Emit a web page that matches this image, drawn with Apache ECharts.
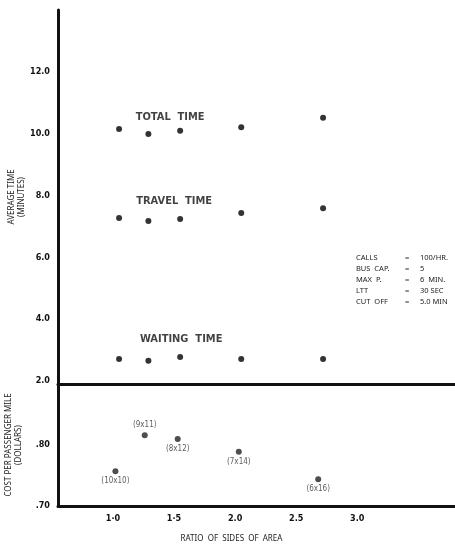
<!DOCTYPE html>
<html>
<head>
<meta charset="utf-8">
<script src="https://cdn.jsdelivr.net/npm/echarts@6/dist/echarts.min.js"></script>
<style>
  html, body { margin: 0; padding: 0; background: #fff; }
</style>
</head>
<body>
<div id="chart" style="width: 455px; height: 548px"></div>
<script>
// ratio of sides (x) for the time curves
var ratioTime = [1.05, 1.29, 1.55, 2.05, 2.72];
var totalTime = [10.15, 9.99, 10.09, 10.21, 10.51];
var travelTime = [7.27, 7.17, 7.24, 7.43, 7.59];
var waitingTime = [2.71, 2.65, 2.77, 2.71, 2.71];

// cost per passenger mile (lower panel)
var ratioCost = [1.02, 1.26, 1.53, 2.03, 2.68];
var costValues = [0.757, 0.816, 0.81, 0.789, 0.744];
var costLabels = ['(10x10)', '(9x11)', '(8x12)', '(7x14)', '(6x16)'];

var xTickValues = [1, 1.5, 2, 2.5, 3];
var xTickLabels = ['1·0', '1·5', '2.0', '2.5', '3.0'];
var timeTicks = [2, 4, 6, 8, 10, 12];
var costTicks = [0.7, 0.8];

var noteKeys = ['CALLS', 'BUS  CAP.', 'MAX  P.', 'LTT', 'CUT  OFF'];
var noteValues = ['100/HR.', '5', '6  MIN.', '30 SEC', '5.0 MIN'];

var chart = echarts.init(document.getElementById('chart'));

var tickFont = { color: '#111', fontSize: 9, fontWeight: 'bold', fontFamily: 'DejaVu Sans Condensed' };
var axisLineStyle = { color: '#111', width: 3 };

function pts(xs, ys) {
  return xs.map(function (x, i) { return [x, ys[i]]; });
}

// series title sits on the third point
function titled(xs, ys, title, offset) {
  var d = pts(xs, ys);
  d[2] = {
    value: d[2],
    label: {
      show: true, formatter: title, position: 'top', offset: offset,
      fontSize: 11, fontWeight: 'bold', fontFamily: 'DejaVu Sans Condensed', color: '#111'
    }
  };
  return d;
}

var costPos = ['bottom', 'top', 'bottom', 'bottom', 'bottom'];
var costData = pts(ratioCost, costValues).map(function (p, i) {
  return {
    value: p,
    label: {
      show: true, formatter: costLabels[i], position: costPos[i], distance: 3,
      fontSize: 8, fontFamily: 'DejaVu Sans Condensed', color: '#333'
    }
  };
});

var option = {
  animation: false,
  grid: [
    { left: 58, right: 0, top: 10, height: 374, outerBoundsMode: 'none' },
    { left: 58, right: 0, top: 384, height: 122, outerBoundsMode: 'none' }
  ],
  xAxis: [
    {
      gridIndex: 0, type: 'value', min: 0.55, max: 3.8,
      axisLine: { show: true, lineStyle: axisLineStyle },
      axisTick: { show: false }, axisLabel: { show: false }, splitLine: { show: false }
    },
    {
      gridIndex: 1, type: 'value', min: 0.55, max: 3.8,
      axisLine: { show: true, lineStyle: axisLineStyle },
      axisTick: { show: false }, splitLine: { show: false },
      axisLabel: Object.assign({
        customValues: xTickValues, margin: 8,
        formatter: function (v) { return xTickLabels[xTickValues.indexOf(v)]; }
      }, tickFont),
      name: 'RATIO  OF  SIDES  OF  AREA', nameLocation: 'middle', nameGap: 29, nameMoveOverlap: false,
      nameTextStyle: { fontSize: 8, color: '#222', fontFamily: 'Noto Sans', padding: [0, 50, 0, 0] }
    }
  ],
  yAxis: [
    {
      gridIndex: 0, type: 'value', min: 1.9, max: 14,
      axisLine: { show: true, lineStyle: axisLineStyle },
      axisTick: { show: false }, splitLine: { show: false },
      axisLabel: Object.assign({
        customValues: timeTicks, margin: 8,
        formatter: function (v) { return v.toFixed(1); }
      }, tickFont),
      name: 'AVERAGE TIME\n(MINUTES)', nameLocation: 'middle', nameRotate: 90, nameGap: 31, nameMoveOverlap: false,
      nameTextStyle: { fontSize: 8, color: '#222', fontFamily: 'Noto Sans', lineHeight: 10 }
    },
    {
      gridIndex: 1, type: 'value', min: 0.7, max: 0.9,
      axisLine: { show: true, lineStyle: axisLineStyle },
      axisTick: { show: false }, splitLine: { show: false },
      axisLabel: Object.assign({
        customValues: costTicks, margin: 8,
        formatter: function (v) { return v.toFixed(2).replace(/^0/, ''); }
      }, tickFont),
      name: 'COST PER PASSENGER MILE\n(DOLLARS)', nameLocation: 'middle', nameRotate: 90, nameGap: 34, nameMoveOverlap: false,
      nameTextStyle: { fontSize: 8, color: '#222', fontFamily: 'Noto Sans', lineHeight: 10 }
    }
  ],
  series: [
    {
      name: 'TOTAL TIME', type: 'scatter', xAxisIndex: 0, yAxisIndex: 0,
      symbolSize: 6, itemStyle: { color: '#000' },
      data: titled(ratioTime, totalTime, 'TOTAL  TIME', [-10, 0])
    },
    {
      name: 'TRAVEL TIME', type: 'scatter', xAxisIndex: 0, yAxisIndex: 0,
      symbolSize: 6, itemStyle: { color: '#000' },
      data: titled(ratioTime, travelTime, 'TRAVEL  TIME', [-6, -4])
    },
    {
      name: 'WAITING TIME', type: 'scatter', xAxisIndex: 0, yAxisIndex: 0,
      symbolSize: 6, itemStyle: { color: '#000' },
      data: titled(ratioTime, waitingTime, 'WAITING  TIME', [1, -4])
    },
    {
      name: 'COST', type: 'scatter', xAxisIndex: 1, yAxisIndex: 1,
      symbolSize: 6, itemStyle: { color: '#222' },
      data: costData
    }
  ],
  graphic: [
    {
      type: 'text', left: 356, top: 252,
      style: { text: noteKeys.join('\n'), fontSize: 7.5, lineHeight: 11, fontFamily: 'Noto Sans', fill: '#222' }
    },
    {
      type: 'text', left: 405, top: 252,
      style: { text: noteKeys.map(function () { return '='; }).join('\n'), fontSize: 7.5, lineHeight: 11, fontFamily: 'Noto Sans', fill: '#222' }
    },
    {
      type: 'text', left: 420, top: 252,
      style: { text: noteValues.join('\n'), fontSize: 7.5, lineHeight: 11, fontFamily: 'Noto Sans', fill: '#222' }
    }
  ]
};

chart.setOption(option);
</script>
</body>
</html>
